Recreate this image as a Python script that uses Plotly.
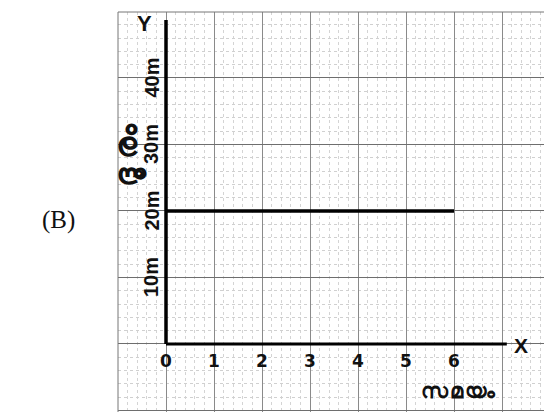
import plotly.graph_objects as go

# ---- data ----
time_vals = [0, 6]            # സമയം
distance_vals = [20, 20]      # ദൂരം (m)
x_tick_vals = [0, 1, 2, 3, 4, 5, 6]
x_tick_text = ["0", "1", "2", "3", "4", "5", "6"]
y_tick_vals = [10, 20, 30, 40]
y_tick_text = ["10m", "20m", "30m", "40m"]
x_axis_end = 7.1
y_axis_end = 48.7

fig = go.Figure()

# axes (thick black lines)
fig.add_trace(go.Scatter(x=[0, x_axis_end], y=[0, 0], mode="lines",
                         line=dict(color="black", width=3), hoverinfo="skip"))
fig.add_trace(go.Scatter(x=[0, 0], y=[0, y_axis_end], mode="lines",
                         line=dict(color="black", width=3.5), hoverinfo="skip"))
# data line
fig.add_trace(go.Scatter(x=time_vals, y=distance_vals, mode="lines",
                         line=dict(color="black", width=3.5), hoverinfo="skip"))

annotations = []
for v, t in zip(x_tick_vals, x_tick_text):
    annotations.append(dict(x=v, y=-2.5, text="<b>" + t + "</b>", showarrow=False,
                            font=dict(family="DejaVu Sans", size=17, color="#111"),
                            xanchor="center", yanchor="middle"))
for v, t in zip(y_tick_vals, y_tick_text):
    annotations.append(dict(x=-0.3, y=v, text="<b>" + t + "</b>", showarrow=False, textangle=-90,
                            font=dict(family="Liberation Sans", size=20, color="#111"),
                            xanchor="center", yanchor="middle"))

annotations += [
    dict(x=-0.44, y=48.2, text="<b>Y</b>", showarrow=False,
         font=dict(family="Liberation Sans", size=22, color="#111")),
    dict(x=7.4, y=-0.2, text="<b>X</b>", showarrow=False,
         font=dict(family="Liberation Sans", size=21, color="#111")),
    dict(x=6.1, y=-6.9, text="<span style='letter-spacing:2px'><b>സമയം</b></span>", showarrow=False,
         font=dict(family="Noto Sans", size=21, color="#111")),
    dict(x=-0.86, y=29.0, text="<span style='letter-spacing:9px'><b>ദൂരം</b></span>", showarrow=False,
         textangle=-90, font=dict(family="Noto Sans", size=31, color="#111")),
    dict(x=32 / 552, y=1 - 212 / 412, xref="paper", yref="paper", text="(B)", showarrow=False,
         font=dict(family="Liberation Serif", size=25, color="#111")),
]

fig.update_layout(
    width=552, height=412,
    margin=dict(l=0, r=0, t=0, b=0),
    paper_bgcolor="white", plot_bgcolor="white",
    showlegend=False,
    annotations=annotations,
    xaxis=dict(domain=[110 / 552, 1], range=[-1.0, 8.208],
               showticklabels=False, zeroline=False, showline=False,
               dtick=1, tick0=0, gridcolor="#8a8a8a", gridwidth=1,
               minor=dict(dtick=0.2, showgrid=True, gridcolor="#d4d4d4", griddash="dot")),
    yaxis=dict(domain=[0, 1 - 4 / 412], range=[-11.43, 49.92],
               showticklabels=False, zeroline=False, showline=False,
               dtick=10, tick0=0, gridcolor="#6e6e6e", gridwidth=1.2,
               minor=dict(dtick=2, showgrid=True, gridcolor="#d0d0d0", griddash="dot")),
    shapes=[dict(type="line", xref="paper", yref="paper", x0=110 / 552, x1=110 / 552,
                 y0=0, y1=1 - 4 / 412, line=dict(color="#777", width=1)),
            dict(type="line", xref="paper", yref="paper", x0=110 / 552, x1=1,
                 y0=1 - 4 / 412, y1=1 - 4 / 412, line=dict(color="#777", width=1))],
)

fig.write_html("out.html")
